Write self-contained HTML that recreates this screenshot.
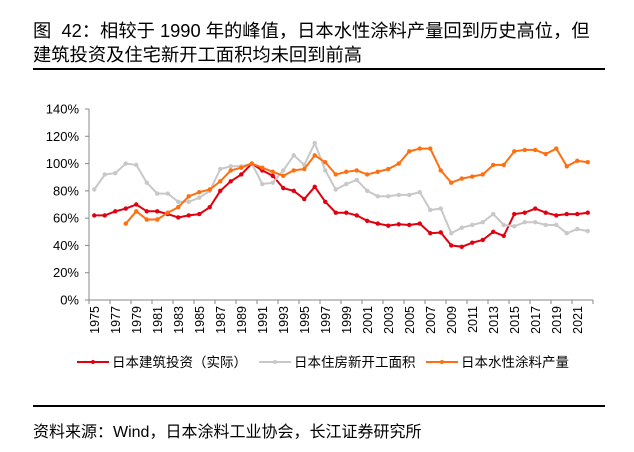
<!DOCTYPE html>
<html><head><meta charset="utf-8">
<style>
body{margin:0;background:#fff;}
#wrap{position:relative;width:634px;height:452px;overflow:hidden;font-family:"Liberation Sans","Noto Sans CJK SC",sans-serif;color:#000;}
.t{position:absolute;left:33px;font-size:18.3px;line-height:22px;white-space:nowrap;}
</style></head>
<body>
<div id="wrap">
<div class="t" style="top:20px">图&nbsp; 42：相较于 1990 年的峰值，日本水性涂料产量回到历史高位，但</div>
<div class="t" style="top:44px">建筑投资及住宅新开工面积均未回到前高</div>
<div style="position:absolute;left:33px;top:68px;width:572px;height:2px;background:#000"></div>
<svg id="chart" width="634" height="452" style="position:absolute;left:0;top:0"></svg>
<div style="position:absolute;left:33px;top:405px;width:572px;height:2px;background:#000"></div>
<div class="t" style="top:422px;font-size:16px">资料来源：Wind，日本涂料工业协会，长江证券研究所</div>
</div>
<script>
const years=[];for(let y=1975;y<=2022;y++)years.push(y);
const construction=[62,62,65,67,70,65,65,63,60.5,62,63,68,80,87,92,100,95,91,82,80,74,83,72,64,64,62,58,56,54.5,55.5,55,56,49,49.5,40,39,42,44,50,47,63,64,67,64,62,63,63,64];
const housing=[81,92,93,100,99,86,78,78,72,72,75,80,96,98,98,100,85,86,95,106,99,115,95,81,85,88,80,76,76,77,77,79,66,67,49,53,55,57,63,55,54,57,57,55,55,49,52,50.5];
const paint=[null,null,null,56,65,59,59,64,68,76,79,81,87,95,97,100,97,94,91,95,96,106,101,92,94,95,92,94,96,100,109,111,111,95,86,89,90.5,92,99,99,109,110,110,107,111,98,102,101];
const yTicks=[0,20,40,60,80,100,120,140];
const seriesNames=["日本建筑投资（实际）","日本住房新开工面积","日本水性涂料产量"];
const colors=["#e0000f","#c8c8c8","#ff6f0f"];
const svg=document.getElementById('chart');const NS="http://www.w3.org/2000/svg";
const x0=89,x1=593,yTop=109,yBot=300;
const step=(x1-x0)/years.length;
function xs(i){return x0+step*(i+0.5);}
function ys(v){return yBot-(v/140)*(yBot-yTop);}
function mk(tag,attrs){const e=document.createElementNS(NS,tag);for(const k in attrs)e.setAttribute(k,attrs[k]);svg.appendChild(e);return e;}
let ax=mk('line',{x1:x0,y1:yTop,x2:x0,y2:yBot,stroke:'#888','stroke-width':1});


ax=mk('line',{x1:x0,y1:yBot,x2:x1,y2:yBot,stroke:'#888','stroke-width':1});


yTicks.forEach(v=>{
  mk('line',{x1:x0-4,y1:ys(v),x2:x0,y2:ys(v),stroke:'#888'});
  const t=mk('text',{x:x0-10,y:ys(v)+4.5,'text-anchor':'end','font-size':13,'font-family':'Liberation Sans, sans-serif'});
  t.textContent=v+'%';
  
  
});
for(let i=0;i<=years.length;i+=2){mk('line',{x1:x0+step*i,y1:yBot,x2:x0+step*i,y2:yBot+4,stroke:'#888'});}
mk('line',{x1:x1,y1:yBot,x2:x1,y2:yBot+4,stroke:'#888'});
years.forEach((y,i)=>{if(i%2)return;
  const x=xs(i)+4.5,yy=yBot+6;
  const t=mk('text',{x:x,y:yy,transform:`rotate(-90 ${x} ${yy})`,'text-anchor':'end','font-size':12.5,'font-family':'Liberation Sans, sans-serif'});
  t.textContent=y;
  
  
});
[construction,housing,paint].forEach((data,s)=>{
  let d='';data.forEach((v,i)=>{if(v==null)return;d+=(d?'L':'M')+xs(i).toFixed(1)+','+ys(v).toFixed(1);});
  const p=mk('path',{d:d,fill:'none',stroke:colors[s],'stroke-width':2});
  
  
  data.forEach((v,i)=>{if(v==null)return;
    const c=mk('circle',{cx:xs(i),cy:ys(v),r:2.2,fill:colors[s]});
    
    
  });
});
const lx=[77,259,426];
seriesNames.forEach((n,s)=>{
  mk('line',{x1:lx[s],y1:362,x2:lx[s]+32,y2:362,stroke:colors[s],'stroke-width':2});
  mk('circle',{cx:lx[s]+16,cy:362,r:2,fill:colors[s]});
  const t=mk('text',{x:lx[s]+35,y:367,'font-size':13.5,'font-family':'Liberation Sans, Noto Sans CJK SC, sans-serif'});
  t.textContent=n;
  
  
});
</script>
</body></html>
